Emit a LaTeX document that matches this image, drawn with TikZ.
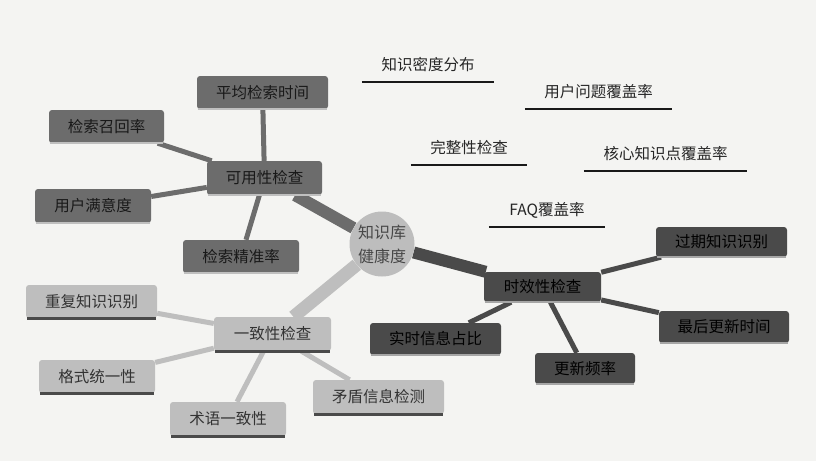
\documentclass[tikz,border=0pt]{standalone}
\usepackage{fontspec}
\setmainfont{Noto Sans CJK SC}
\usetikzlibrary{backgrounds}
\definecolor{bgc}{HTML}{F4F4F2}
\definecolor{usec}{HTML}{6C6C6C}
\definecolor{timec}{HTML}{4A4A4A}
\definecolor{consc}{HTML}{BEBEBE}
\definecolor{circc}{HTML}{BDBDBD}
\tikzset{
  x=1pt, y=-1pt,
  box/.style={rectangle, rounded corners=3pt, inner sep=0pt, font=\fontsize{15.5}{17}\selectfont},
  usebox/.style={box, fill=usec, text=black!90},
  timebox/.style={box, fill=timec, text=black},
  consbox/.style={box, fill=consc, text=black!80},
  toplabel/.style={inner sep=0pt, minimum height=34pt, font=\fontsize{15.5}{17}\selectfont, text=black!85},
  uline/.style={line width=2.5pt, draw=black!90},
  useedge/.style={line width=2.5pt, draw=black!25},
  timeedge/.style={line width=2.5pt, draw=black!35},
  consedge/.style={line width=3pt, draw=timec},
  mainline/.style={line width=12pt},
  subline/.style={line width=5pt},
}
\begin{document}
\begin{tikzpicture}
\useasboundingbox (0,0) rectangle (816,461);

% centre
\node[circle, fill=circc, minimum size=65pt, inner sep=0pt, align=center, text=black!72,
      font=\fontsize{16}{24}\selectfont] (c) at (382,244) {知识库\\健康度};

% usability group
\node[usebox, minimum width=115pt, minimum height=34pt] (u) at (264.5,178) {可用性检查};
\node[usebox, minimum width=131pt, minimum height=33pt] (u1) at (262.5,92.5) {平均检索时间};
\node[usebox, minimum width=115pt, minimum height=33pt] (u2) at (106.5,126.5) {检索召回率};
\node[usebox, minimum width=116pt, minimum height=34pt] (u3) at (93,206) {用户满意度};
\node[usebox, minimum width=116pt, minimum height=33pt] (u4) at (241,256.5) {检索精准率};

% timeliness group
\node[timebox, minimum width=117pt, minimum height=30pt] (t) at (542.5,287) {时效性检查};
\node[timebox, minimum width=131pt, minimum height=30pt] (t1) at (721.5,242) {过期知识识别};
\node[timebox, minimum width=130pt, minimum height=32pt] (t2) at (724,327) {最后更新时间};
\node[timebox, minimum width=131pt, minimum height=32pt] (t3) at (435.5,339) {实时信息占比};
\node[timebox, minimum width=100pt, minimum height=31pt] (t4) at (585,368.5) {更新频率};

% consistency group
\node[consbox, minimum width=117pt, minimum height=34pt] (k) at (272.5,334) {一致性检查};
\node[consbox, minimum width=131pt, minimum height=33pt] (k1) at (91.5,301.5) {重复知识识别};
\node[consbox, minimum width=116pt, minimum height=33pt] (k2) at (97,376.5) {格式统一性};
\node[consbox, minimum width=116pt, minimum height=34pt] (k3) at (228,419) {术语一致性};
\node[consbox, minimum width=131pt, minimum height=34pt] (k4) at (378.5,397) {矛盾信息检测};

% bottom edges
\foreach \n in {u,u1,u2,u3,u4} \draw[useedge] ([xshift=1pt]\n.south west) -- ([xshift=-1pt]\n.south east);
\foreach \n in {t,t1,t2,t3,t4} \draw[timeedge] ([xshift=1pt]\n.south west) -- ([xshift=-1pt]\n.south east);
\foreach \n in {k,k1,k2,k3,k4} \draw[consedge] ([xshift=1pt]\n.south west) -- ([xshift=-1pt]\n.south east);

% completeness labels
\node[toplabel, minimum width=132pt] (p1) at (428,65) {知识密度分布};
\node[toplabel, minimum width=147pt] (p2) at (598.5,92) {用户问题覆盖率};
\node[toplabel, minimum width=116pt] (p) at (469,148) {完整性检查};
\node[toplabel, minimum width=163pt] (p3) at (665.5,154) {核心知识点覆盖率};
\node[toplabel, minimum width=116pt] (p4) at (547,210) {FAQ覆盖率};
\foreach \n in {p1,p2,p,p3,p4} \draw[uline] (\n.south west) -- (\n.south east);

% background and connectors
\begin{scope}[on background layer]
\fill[bgc] (0,0) rectangle (816,461);
\draw[mainline, usec] (c) -- (u);
\draw[mainline, timec] (c) -- (t);
\draw[mainline, consc, line width=13pt] (c) -- (k);
\foreach \n in {u1,u2,u3,u4} \draw[subline, usec] (u) -- (\n);
\foreach \n in {t1,t2,t3,t4} \draw[subline, timec] (t) -- (\n);
\foreach \n in {k1,k2,k3,k4} \draw[subline, consc] (k) -- (\n);
\end{scope}
\end{tikzpicture}
\end{document}
